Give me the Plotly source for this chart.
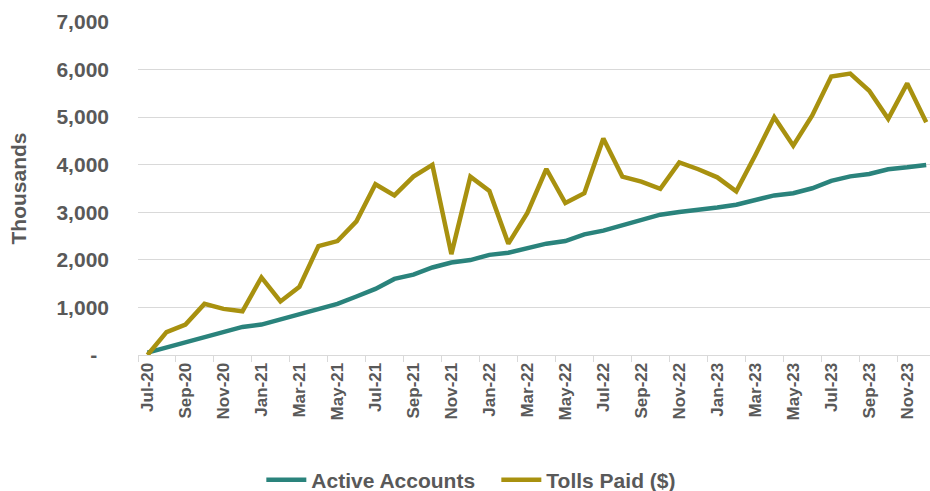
import plotly.graph_objects as go

# Monthly reporting periods, Jul-20 through Dec-23
months = [
    "Jul-20", "Aug-20", "Sep-20", "Oct-20", "Nov-20", "Dec-20",
    "Jan-21", "Feb-21", "Mar-21", "Apr-21", "May-21", "Jun-21",
    "Jul-21", "Aug-21", "Sep-21", "Oct-21", "Nov-21", "Dec-21",
    "Jan-22", "Feb-22", "Mar-22", "Apr-22", "May-22", "Jun-22",
    "Jul-22", "Aug-22", "Sep-22", "Oct-22", "Nov-22", "Dec-22",
    "Jan-23", "Feb-23", "Mar-23", "Apr-23", "May-23", "Jun-23",
    "Jul-23", "Aug-23", "Sep-23", "Oct-23", "Nov-23", "Dec-23",
]

# Values in thousands
active_accounts = [
    50, 160, 270, 380, 490, 590,
    640, 750, 850, 950, 1075, 1230,
    1390, 1600, 1690, 1840, 1945, 1995,
    2105, 2150, 2245, 2340, 2395, 2535,
    2615, 2730, 2830, 2950, 3005, 3045,
    3100, 3160, 3255, 3355, 3400, 3505,
    3660, 3755, 3805, 3905, 3945, 3995,
]

tolls_paid = [
    0, 480, 640, 1075, 970, 920,
    1630, 1125, 1435, 2290, 2395, 2810,
    3590, 3355, 3750, 3995, 2120, 3750,
    3450, 2340, 2985, 3910, 3195, 3400,
    4550, 3750, 3645, 3495, 4050, 3905,
    3735, 3440, 4200, 5000, 4400, 5035,
    5855, 5915, 5555, 4965, 5710, 4895,
]

y_tick_values = [0, 1000, 2000, 3000, 4000, 5000, 6000, 7000]
y_tick_labels = ["-\u00a0\u00a0", "1,000", "2,000", "3,000", "4,000", "5,000", "6,000", "7,000"]

TEAL = "#2A837C"
GOLD = "#A8910F"
TEXT = "#595959"
GRID = "#D9D9D9"
FONT = "Liberation Sans, Arial, sans-serif"

fig = go.Figure()
fig.add_trace(go.Scatter(
    x=months, y=active_accounts, mode="lines", name="Active Accounts",
    line=dict(color=TEAL, width=4.5),
))
fig.add_trace(go.Scatter(
    x=months, y=tolls_paid, mode="lines", name="Tolls Paid ($)",
    line=dict(color=GOLD, width=4.5),
))

fig.update_layout(
    width=930, height=491,
    margin=dict(l=138, r=0, t=22, b=136),
    paper_bgcolor="white", plot_bgcolor="white",
    font=dict(family=FONT, color=TEXT),
    showlegend=True,
    legend=dict(
        orientation="h",
        xref="container", x=0.281, xanchor="left",
        yref="container", y=0.022, yanchor="middle",
        entrywidth=180, entrywidthmode="pixels",
        font=dict(size=21, color=TEXT, family=FONT, weight="bold"),
        itemwidth=40, bgcolor="rgba(0,0,0,0)",
    ),
)

fig.update_xaxes(
    type="category",
    range=[-0.5, 41.2],
    tickmode="linear", tick0=0, dtick=2,
    tickson="boundaries",
    ticks="outside", ticklen=6, tickcolor=GRID, tickwidth=1,
    showline=True, linecolor=GRID, linewidth=1,
    showgrid=False, zeroline=False,
    tickangle=-90,
    automargin=False,
    tickfont=dict(size=17, color=TEXT, family=FONT, weight="bold"),
)

fig.update_yaxes(
    range=[0, 7000],
    tickmode="array", tickvals=y_tick_values, ticktext=y_tick_labels,
    showgrid=True, gridcolor=GRID, gridwidth=1,
    zeroline=False, showline=False, ticks="",
    ticklabelstandoff=28,
    automargin=False,
    tickfont=dict(size=21, color=TEXT, family=FONT, weight="bold"),
    title=dict(text="Thousands", standoff=24,
               font=dict(size=21, color=TEXT, family=FONT, weight="bold")),
)

fig.write_html("out.html")
